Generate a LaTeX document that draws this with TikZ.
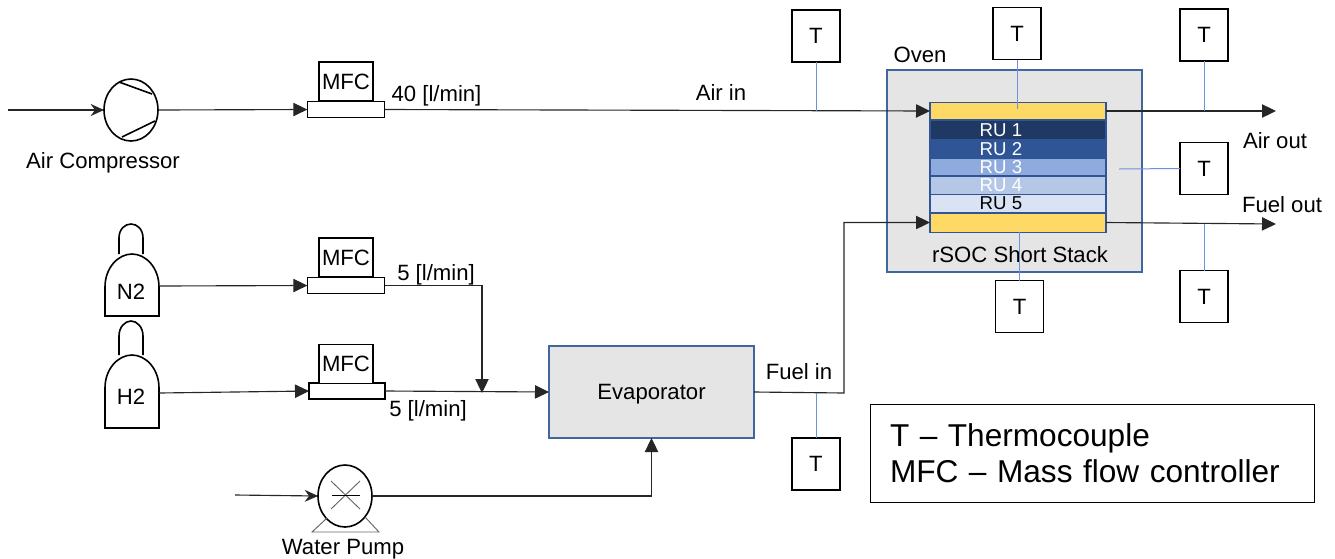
\documentclass[tikz,border=0pt]{standalone}
\usepackage{fontspec}
\setmainfont{Liberation Sans}
\usetikzlibrary{arrows.meta, shapes.geometric}
\definecolor{ovenblue}{HTML}{41659F}
\definecolor{stackblue}{HTML}{2F5597}
\definecolor{probeblue}{HTML}{6A93D8}
\definecolor{cellyellow}{HTML}{FFD966}
\definecolor{linegray}{HTML}{262626}
\tikzset{>={Stealth[length=10.5pt, width=10pt, inset=0pt]}}
\tikzset{
  every node/.style={font=\fontsize{16.6}{19}\selectfont, inner sep=0pt, outer sep=0pt, text depth=0pt},
  symbol/.style={draw=black, line width=1.2pt},
  pipe/.style={draw=linegray, line width=0.85pt},
  inlet/.style={pipe, -{Stealth[length=10pt, width=9pt]}},
  probe/.style={draw=probeblue, line width=0.75pt},
  tbox/.style={draw=black, line width=1.2pt, fill=white, minimum width=36pt, minimum height=39pt},
  mfcbase/.style={symbol, fill=white, minimum width=58pt, minimum height=12pt},
  mfctop/.style={symbol, fill=white, minimum width=40.5pt, minimum height=29pt},
  rotary/.style={symbol, ellipse, minimum width=40.5pt, minimum height=46.5pt},
  greybox/.style={draw=ovenblue, line width=1.1pt, fill=black!10},
  layer/.style={draw=stackblue, line width=1pt, minimum width=132pt}
}
\begin{document}
\begin{tikzpicture}[x=0.75pt, y=-0.75pt]
\useasboundingbox (0,0) rectangle (1335,558);

\node[greybox, minimum width=191pt, minimum height=151.5pt] (oven) at (1014.5,171) {};
\node (ovenlabel) at (920,55) {Oven};
\node (stacklabel) at (1020,254) {rSOC Short Stack};

\node[layer, fill=cellyellow, minimum height=12.5pt] (ytop) at (1018,111) {};
\foreach \name/\col/\ypos/\hgt in {ru1/1F3864/130/14, ru2/2F5597/148.5/14, ru3/8FAADC/167/13.5, ru4/B4C7E7/185.5/13.5, ru5/DAE3F3/203.5/13.5}{
  \definecolor{layercol}{HTML}{\col}
  \node[layer, fill=layercol, minimum height=\hgt pt] (\name) at (1018,\ypos) {};
}
\node[layer, fill=cellyellow, minimum height=14.5pt] (ybot) at (1018,222.5) {};
\foreach \name/\txt/\col/\ypos in {ru1t/RU 1/white/130, ru2t/RU 2/white/149, ru3t/RU 3/white/167, ru4t/RU 4/white/185, ru5t/RU 5/black/203}{
  \node[text=\col, font=\fontsize{14}{16}\selectfont] (\name) at (1001,\ypos) {\txt};
}

\node[rotary] (comp) at (131,110) {};
\draw[symbol] (119,82) -- (152,94);
\draw[symbol] (122,137) -- (155,121);
\node (complabel) at (103,160) {Air Compressor};
\coordinate (airsrc) at (8,110);

\node[mfcbase] (mfca) at (346,109.5) {};
\node[mfctop, minimum height=29.5pt] (mfcatop) at (346,81.5) {MFC};
\node[mfcbase] (mfcb) at (346,285.5) {};
\node[mfctop] (mfcbtop) at (346,257.5) {MFC};
\node[mfcbase, minimum width=57pt] (mfcc) at (347,391) {};
\node[mfctop] (mfcctop) at (346,364) {MFC};

\draw[symbol] (105,316) -- (105,287) .. controls (105,268) and (118,254) .. (132,254) .. controls (146,254) and (159,268) .. (159,287) -- (159,316) -- cycle;
\draw[symbol] (119,254) -- (119,238) .. controls (119,229) and (125,224) .. (131,224) .. controls (137,224) and (143,229) .. (143,238) -- (143,254);
\draw[symbol] (105,428) -- (105,388) .. controls (105,369) and (118,355) .. (132,355) .. controls (146,355) and (159,369) .. (159,388) -- (159,428) -- cycle;
\draw[symbol] (119,355) -- (119,336) .. controls (119,327) and (125,321) .. (131,321) .. controls (137,321) and (143,327) .. (143,336) -- (143,355);
\node (n2) at (131,292) {N2};
\node (h2) at (131,397) {H2};
\coordinate (n2out) at (159,286);
\coordinate (h2out) at (159,393);
\coordinate (tee) at (482,393);

\node[greybox, minimum width=153.75pt, minimum height=69pt] (evap) at (651.5,392) {Evaporator};

\node[rotary] (pump) at (345,496) {};
\draw[draw=black!60, line width=0.7pt] (331,481) -- (360,509);
\draw[draw=black!60, line width=0.7pt] (360,481) -- (331,509);
\draw[line width=0.7pt] (332,495) -- (360,495);
\draw[draw=black!60, line width=0.7pt] (327,518) -- (312,532) -- (379,532) -- (365,517);
\node (pumplabel) at (343,547) {Water Pump};
\coordinate (watersrc) at (235,495);

\draw[inlet] (airsrc) -- (comp.west);
\draw[pipe, ->] (comp.east) -- (mfca.west);
\draw[pipe, ->] (mfca.east) -- (ytop.west);
\draw[pipe, ->] (n2out) -- (mfcb.west);
\draw[pipe, ->] (h2out) -- (mfcc.west);
\draw[pipe, ->] (mfcb.east) -| (tee);
\draw[pipe, ->] (mfcc.east) -- (evap.west);
\draw[inlet] (watersrc) -- (pump.west);
\draw[pipe, ->] (pump.east) -| (evap.south);
\draw[pipe, ->] (evap.east) -- (844,393) |- (ybot.west);

\coordinate (airend) at (1276,111);
\coordinate (fuelend) at (1276,224);
\draw[pipe, ->] (ytop.east) -- (airend);
\draw[pipe, ->] (ybot.east) -- (fuelend);

\node[tbox] (tair) at (816,36) {T};
\node[tbox] (tfuel) at (816,464) {T};
\node[tbox] (tstack) at (1017,33.5) {T};
\node[tbox] (tairout) at (1204,35) {T};
\node[tbox] (tmid) at (1204,168.5) {T};
\node[tbox] (tfuelout) at (1204,296.5) {T};
\node[tbox] (tbot) at (1019.5,306.5) {T};
\coordinate (tstackend) at (1017,109);
\coordinate (tmidend) at (1119,169);
\coordinate (tfueljoin) at (816,393);
\draw[probe] (tair.south) -- (tair.south |- ytop.west);
\draw[probe] (tfuel.north) -- (tfueljoin);
\draw[probe] (tstack.south) -- (tstackend);
\draw[probe] (tairout.south) -- (tairout.south |- airend);
\draw[probe] (tmid.west) -- (tmidend);
\draw[probe] (tfuelout.north) -- (tfuelout.north |- fuelend);
\draw[probe] (tbot.north) -- (tbot.north |- ybot.south);

\node (flowa) at (436.5,93) {40 [l/min]};
\node (flowb) at (436,272) {5 [l/min]};
\node (flowc) at (428,408) {5 [l/min]};
\node (airin) at (721,92) {Air in};
\node (fuelin) at (799,371) {Fuel in};
\node (airout) at (1275,140) {Air out};
\node (fuelout) at (1282,204) {Fuel out};

\node[draw=black, line width=0.75pt, fill=white, text depth=, minimum width=333pt, minimum height=74pt, text width=303pt, align=left, font=\fontsize{23.7}{27}\selectfont] (legend) at (1092,453.5) {T -- Thermocouple\\MFC -- Mass flow controller};
\end{tikzpicture}
\end{document}
